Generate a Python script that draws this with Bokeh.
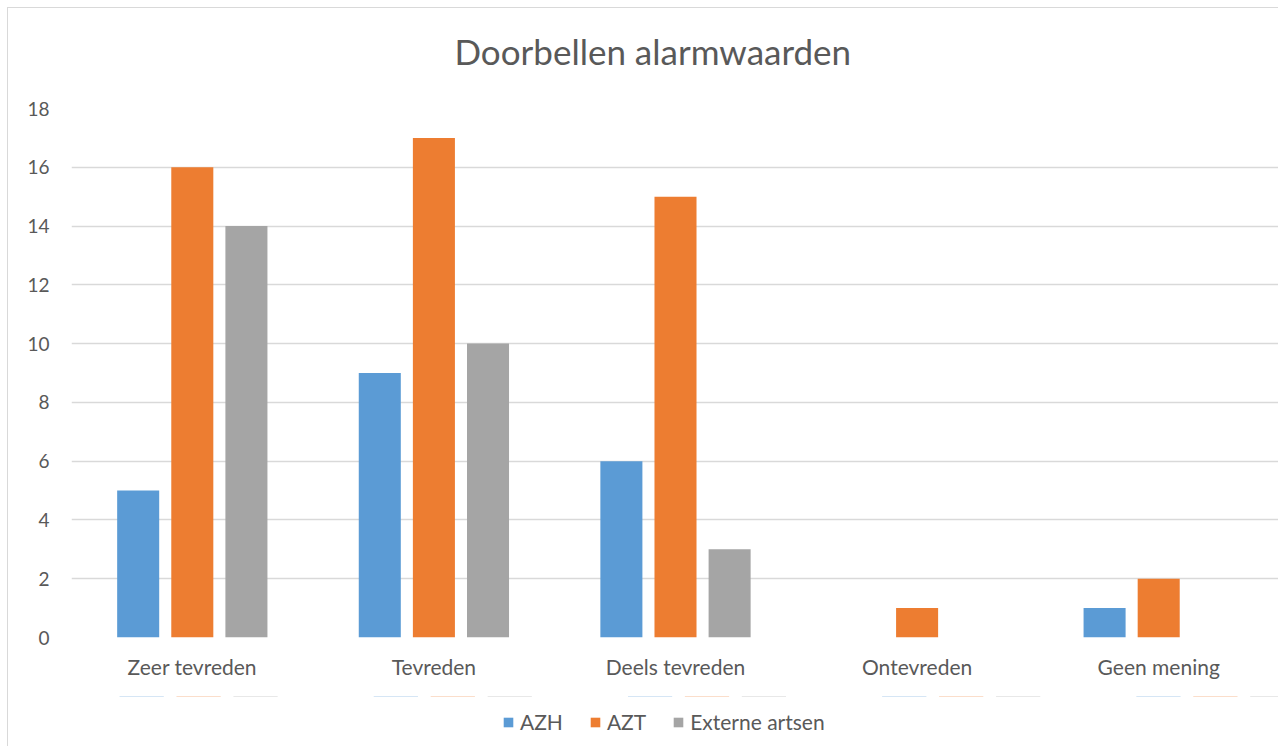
from bokeh.plotting import figure
from bokeh.models import FactorRange, Legend, LegendItem, ColumnDataSource, Title, Range1d
from bokeh.layouts import column
from bokeh.transform import dodge
from bokeh.embed import file_html
from bokeh.resources import INLINE

categories = ["Zeer tevreden", "Tevreden", "Deels tevreden", "Ontevreden", "Geen mening"]
series_names = ["AZH", "AZT", "Externe artsen"]
azh = [5, 9, 6, 0, 1]
azt = [16, 17, 15, 1, 2]
externe = [14, 10, 3, 0, 0]
y_ticks = [0, 2, 4, 6, 8, 10, 12, 14, 16, 18]
title_text = "Doorbellen alarmwaarden"

colors = ["#5B9BD5", "#ED7D31", "#A5A5A5"]
FONT = "Lato"
TXT = "#595959"
BORDER = "1px solid #D9D9D9"

source = ColumnDataSource(data=dict(cat=categories, AZH=azh, AZT=azt, EXT=externe))
x_range = FactorRange(*categories, range_padding=0)

p = figure(x_range=x_range, y_range=(0, 18),
           frame_width=1207, frame_height=528, output_backend="svg", toolbar_location=None,
           min_border_left=63, min_border_right=0, min_border_top=100, min_border_bottom=60,
           styles={"border-left": BORDER, "border-top": BORDER,
                   "margin-left": "7px", "margin-top": "7px"})
p.outline_line_color = None
p.background_fill_color = "white"
p.border_fill_color = "white"

# spacer between frame and title
p.add_layout(Title(text=" ", text_font=FONT, text_font_size="22px", standoff=8), "above")
p.add_layout(Title(text=title_text, text_font=FONT, text_font_size="35px",
                   text_font_style="normal", text_color=TXT, align="left",
                   offset=383, standoff=0), "above")

offsets = [-0.224, 0.0, 0.224]
cols = ["AZH", "AZT", "EXT"]
for col, off, c in zip(cols, offsets, colors):
    p.vbar(x=dodge("cat", off, range=p.x_range), top=col, width=0.174, bottom=0,
           source=source, fill_color=c, line_color=None)

p.yaxis.ticker = y_ticks
for ax in (p.xaxis[0], p.yaxis[0]):
    ax.axis_line_color = None
    ax.major_tick_line_color = None
    ax.minor_tick_line_color = None
    ax.major_label_text_font = FONT
    ax.major_label_text_color = TXT
p.yaxis.major_label_text_font_size = "19px"
p.xaxis.major_label_text_font_size = "21px"
p.yaxis.major_label_standoff = 16
p.xaxis.major_label_standoff = 10
p.xgrid.grid_line_color = None
p.ygrid.grid_line_color = "#D9D9D9"
p.ygrid.grid_line_width = 1.3

# legend strip below the chart: same series styles, zero-height and out of view,
# so only the legend entries show
lg = figure(x_range=x_range, y_range=Range1d(-100, -99),
            frame_width=1270, frame_height=50, output_backend="svg", toolbar_location=None,
            x_axis_location=None, y_axis_location=None,
            min_border_left=0, min_border_right=0, min_border_top=0, min_border_bottom=0,
            styles={"border-left": BORDER, "margin-left": "7px"})
lg.outline_line_color = None
lg.grid.grid_line_color = None
lg.border_fill_color = "white"
renderers = []
for col, off, c in zip(cols, offsets, colors):
    r = lg.vbar(x=dodge("cat", off, range=x_range), top=col, bottom=col, width=0.174,
                source=source, fill_color=c, line_color=None)
    renderers.append(r)

legend = Legend(items=[LegendItem(label=n, renderers=[r]) for n, r in zip(series_names, renderers)],
                orientation="horizontal", location=(494, 12),
                glyph_width=12, glyph_height=12, label_standoff=6, spacing=26,
                padding=0, margin=0, border_line_color=None, background_fill_alpha=0,
                label_text_font=FONT, label_text_font_size="21px", label_text_color=TXT)
lg.add_layout(legend, "center")

layout = column(p, lg, spacing=0)
open("out.html", "w").write(file_html(layout, INLINE))
